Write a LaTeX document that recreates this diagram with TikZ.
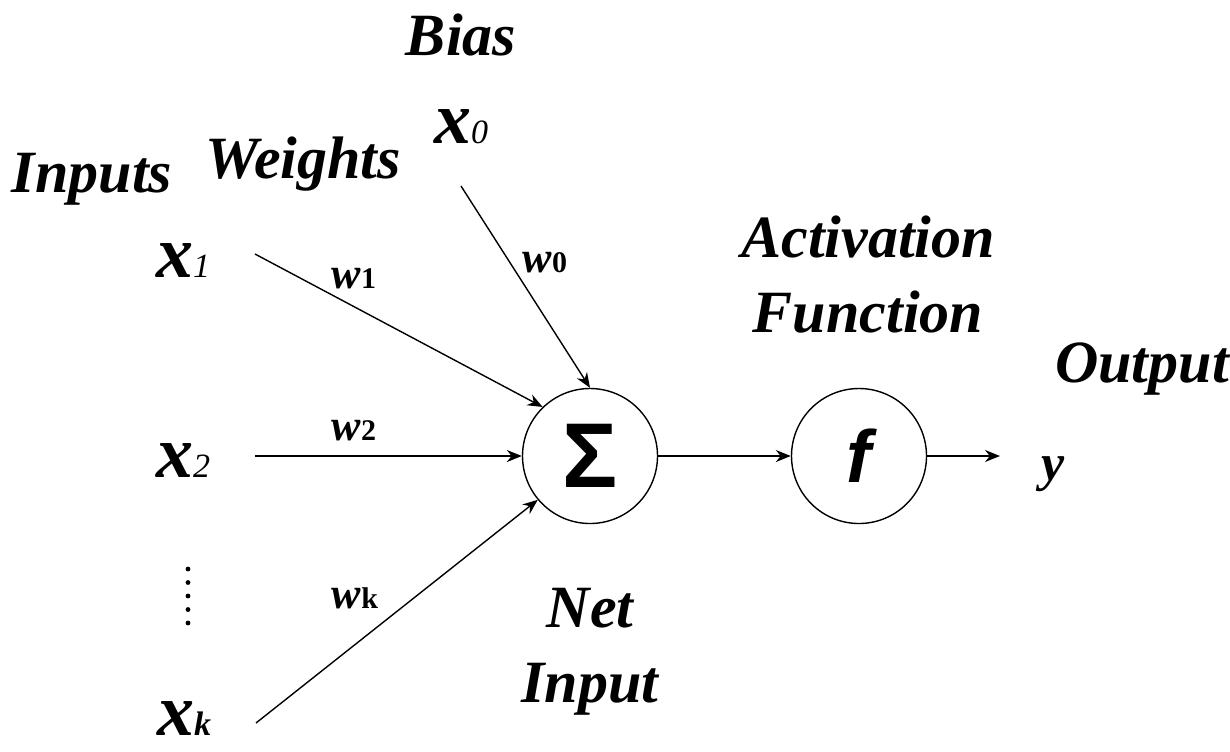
\documentclass[tikz,border=0pt]{standalone}
\usepackage{fontspec}
\setmainfont{Liberation Serif}
\newfontfamily\opfont{Liberation Sans}
\usetikzlibrary{arrows.meta,positioning}
\newcommand{\isub}[1]{{\fontsize{17}{17}\selectfont\mdseries\itshape #1}}
\newcommand{\wsub}[1]{{\fontsize{15}{15}\selectfont\bfseries\upshape #1}}

\begin{document}
\begin{tikzpicture}[x=0.5pt,y=-0.5pt,
  title/.style={font=\bfseries\itshape\fontsize{30}{37.5}\selectfont,align=center,inner sep=0pt},
  var/.style={font=\bfseries\itshape\fontsize{37}{40}\selectfont,inner sep=0pt,anchor=base},
  weight/.style={font=\bfseries\itshape\fontsize{22}{24}\selectfont,inner sep=0pt,anchor=base},
  unit/.style={draw,circle,minimum size=67.5pt,inner sep=0pt,line width=0.7pt},
  edge/.style={-{Stealth[length=7.5pt,width=6pt]},line width=0.7pt}
]
\useasboundingbox (0,0) rectangle (1230,751);
% headings
\node[title,anchor=base] (bias) at (461,55) {Bias};
\node[title,anchor=base] (inputs) at (92,192) {Inputs};
\node[title,anchor=base] (weights) at (303,178) {Weights};
\node[title] (act) at (868,275) {Activation\\Function};
\node[title,anchor=base] (output) at (1142,382) {Output};
\node[title] (net) at (590,652) {Net\\Input};
% inputs
\node[var] (x0) at (461,143) {x\isub{0}};
\node[var] (x1) at (183,277) {x\isub{1}};
\node[var] (x2) at (183,477) {x\isub{2}};
\node[var] (xk) at (184,735) {x\isub{\bfseries k}};
\foreach \i in {0,...,4}
  \fill (188,569+13.5*\i) circle (1.2pt);
% units
\node[unit] (sigma) at (590,456) {\opfont\bfseries\fontsize{46}{46}\selectfont Σ};
\node[unit] (f) at (859,456) {\opfont\bfseries\itshape\fontsize{37}{37}\selectfont f};
\node[font=\bfseries\itshape\fontsize{26}{30}\selectfont,inner sep=0pt,anchor=base] (y) at (1053,480) {y};
% weights
\node[weight] (w0) at (545,272) {w\wsub{0}};
\node[weight] (w1) at (354,288) {w\wsub{1}};
\node[weight] (w2) at (354,440) {w\wsub{2}};
\node[weight] (wk) at (355,608) {w\wsub{k}};
% connectors
\coordinate (in0) at (461,186);
\coordinate (in1) at (255,254);
\coordinate (in2) at (255,456);
\coordinate (ink) at (256,723);
\coordinate (out) at (1000,456);
\draw[edge] (in0) -- (sigma.90);
\draw[edge] (in1) -- (sigma.134);
\draw[edge] (in2) -- (sigma.west);
\draw[edge] (ink) -- (sigma.220);
\draw[edge] (sigma) -- (f);
\draw[edge] (f) -- (out);
\end{tikzpicture}
\end{document}
